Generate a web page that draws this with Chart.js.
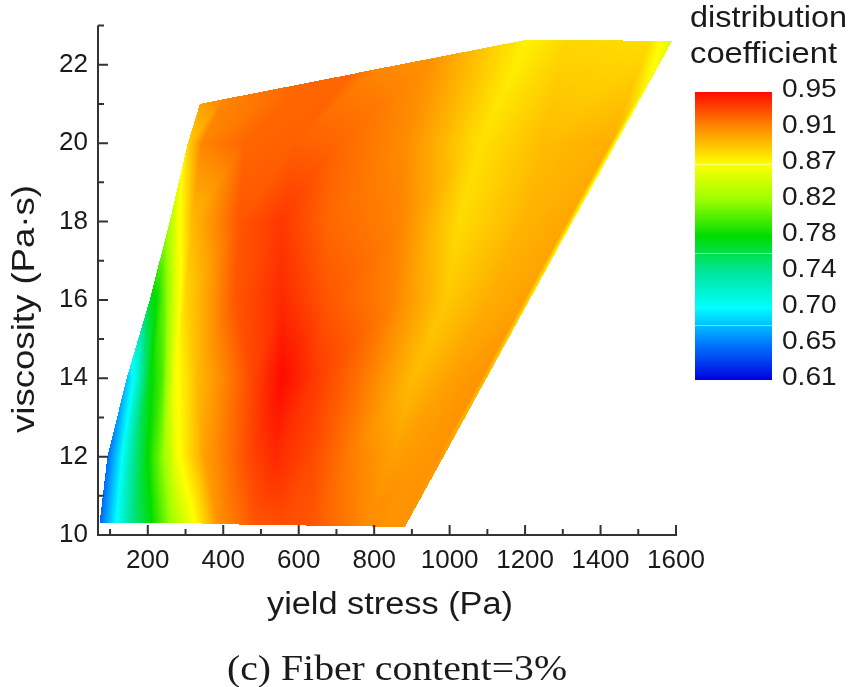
<!DOCTYPE html>
<html>
<head>
<meta charset="utf-8">
<script src="https://cdn.jsdelivr.net/npm/chart.js@4/dist/chart.umd.min.js"></script>
<style>
  html, body { margin: 0; padding: 0; background: #ffffff; }
  canvas { display: block; }
</style>
</head>
<body>
<canvas id="c" width="851" height="687"></canvas>
<script>
// ---------------- data ----------------
const xTicks = [200, 400, 600, 800, 1000, 1200, 1400, 1600];
const yTicks = [10, 12, 14, 16, 18, 20, 22];
const xMinorTicks = [100, 300, 500, 700, 900, 1100, 1300, 1500];
const yMinorTicks = [11, 13, 15, 17, 19, 21, 23];

// colour scale (distribution coefficient)
const levelLabels = ['0.95', '0.91', '0.87', '0.82', '0.78', '0.74', '0.70', '0.65', '0.61'];
const cmapValues = [0.61, 0.6525, 0.695, 0.7375, 0.78, 0.8225, 0.865, 0.9075, 0.95];
const cmapColors = ['#0000e0', '#0078ff', '#00ffff', '#00e69b', '#00dc00', '#9bff00', '#ffff00', '#ff8c00', '#ff0a00'];

// measured field: rows of points (yield stress, viscosity, coefficient), bottom to top
const meshX = [
  [72, 112, 150, 210, 263, 320, 385, 480, 560, 640, 720, 780, 830, 870, 881],
  [93, 128, 158, 200, 240, 278, 350, 470, 540, 630, 740, 850, 910, 970, 984],
  [144, 165, 185, 205, 237, 271, 330, 476, 555, 640, 768, 903, 1000, 1085, 1098],
  [205, 207, 209, 222, 245, 271, 300, 431, 555, 677, 854, 990, 1100, 1198, 1212],
  [258, 259, 260, 261, 262, 280, 316, 440, 555, 677, 870, 1025, 1200, 1312, 1326],
  [306, 307, 308, 309, 310, 312, 343, 457, 590, 700, 880, 1080, 1250, 1427, 1441],
  [338, 339, 340, 341, 342, 343, 400, 602, 734, 800, 955, 1205, 1310, 1530, 1589]
];
const meshY = [
  [10.3, 10.3, 10.3, 10.3, 10.3, 10.3, 10.28, 10.26, 10.25, 10.24, 10.23, 10.22, 10.21, 10.2, 10.2],
  [12, 12, 12, 12, 12, 12, 12, 12, 12, 12, 12, 12, 12, 12, 12],
  [14, 14, 14, 14, 14, 14, 14, 14, 14, 14, 14, 14, 14, 14, 14],
  [16, 16, 16, 16, 16, 16, 16, 16, 16, 16, 16, 16, 16, 16, 16],
  [18, 18, 18, 18, 18, 18, 18, 18, 18, 18, 18, 18, 18, 18, 18],
  [20, 20, 20, 20, 20, 20, 20, 20, 20, 20, 20, 20, 20, 20, 20],
  [21, 21, 21, 21.01, 21.01, 21.01, 21.12, 21.5, 21.75, 21.88, 22.17, 22.64, 22.64, 22.61, 22.6]
];
const meshV = [
  [0.645, 0.69, 0.735, 0.78, 0.825, 0.862, 0.905, 0.925, 0.928, 0.925, 0.915, 0.908, 0.905, 0.905, 0.905],
  [0.648, 0.69, 0.735, 0.78, 0.82, 0.862, 0.9, 0.93, 0.94, 0.93, 0.912, 0.9, 0.903, 0.905, 0.9],
  [0.675, 0.70, 0.74, 0.775, 0.80, 0.86, 0.89, 0.93, 0.95, 0.935, 0.915, 0.89, 0.90, 0.905, 0.885],
  [0.77, 0.772, 0.775, 0.78, 0.81, 0.85, 0.88, 0.925, 0.94, 0.925, 0.91, 0.885, 0.895, 0.90, 0.875],
  [0.83, 0.832, 0.834, 0.836, 0.838, 0.86, 0.89, 0.925, 0.935, 0.92, 0.91, 0.878, 0.893, 0.898, 0.865],
  [0.88, 0.881, 0.882, 0.883, 0.884, 0.885, 0.91, 0.92, 0.922, 0.92, 0.908, 0.876, 0.89, 0.895, 0.86],
  [0.90, 0.90, 0.90, 0.90, 0.90, 0.90, 0.91, 0.92, 0.92, 0.91, 0.905, 0.87, 0.88, 0.878, 0.85]
];

// ---------------- helpers ----------------
const SANS = "'Liberation Sans', Arial, sans-serif";
const SERIF = "'Liberation Serif', 'Times New Roman', serif";
const TEXT = '#1a1a1a';
const AXIS = '#333333';

function hexToRgb(h) {
  return [parseInt(h.slice(1, 3), 16), parseInt(h.slice(3, 5), 16), parseInt(h.slice(5, 7), 16)];
}
const cmapRgb = cmapColors.map(hexToRgb);

function colorFor(v) {
  if (v <= cmapValues[0]) return cmapRgb[0];
  const n = cmapValues.length;
  if (v >= cmapValues[n - 1]) return cmapRgb[n - 1];
  for (let i = 0; i < n - 1; i++) {
    if (v <= cmapValues[i + 1]) {
      const t = (v - cmapValues[i]) / (cmapValues[i + 1] - cmapValues[i]);
      const a = cmapRgb[i], b = cmapRgb[i + 1];
      return [a[0] + (b[0] - a[0]) * t, a[1] + (b[1] - a[1]) * t, a[2] + (b[2] - a[2]) * t];
    }
  }
  return cmapRgb[n - 1];
}

function scaledText(ctx, text, x, y, font, targetW, align, rotate) {
  ctx.save();
  ctx.font = font;
  ctx.fillStyle = TEXT;
  ctx.textAlign = align || 'center';
  ctx.textBaseline = 'alphabetic';
  const w = ctx.measureText(text).width;
  const sx = targetW ? targetW / w : 1;
  ctx.translate(x, y);
  if (rotate) ctx.rotate(rotate);
  ctx.scale(sx, 1);
  ctx.fillText(text, 0, 0);
  ctx.restore();
}

// ---------------- plugin drawing the field, axes and colour bar ----------------
const fieldPlugin = {
  id: 'fieldPlugin',
  beforeDatasetsDraw(chart) {
    const { ctx, scales } = chart;
    const xs = scales.x, ys = scales.y;
    const W = chart.width, H = chart.height;
    const off = document.createElement('canvas');
    off.width = W; off.height = H;
    const octx = off.getContext('2d');
    const img = octx.createImageData(W, H);
    const d = img.data;
    const P = meshX.map((row, r) => row.map((xv, c) => ({
      px: xs.getPixelForValue(xv),
      py: ys.getPixelForValue(meshY[r][c]),
      v: meshV[r][c]
    })));
    function tri(a, b, c) {
      const den = (b.py - c.py) * (a.px - c.px) + (c.px - b.px) * (a.py - c.py);
      if (Math.abs(den) < 1e-9) return;
      const minX = Math.max(0, Math.floor(Math.min(a.px, b.px, c.px)));
      const maxX = Math.min(W - 1, Math.ceil(Math.max(a.px, b.px, c.px)));
      const minY = Math.max(0, Math.floor(Math.min(a.py, b.py, c.py)));
      const maxY = Math.min(H - 1, Math.ceil(Math.max(a.py, b.py, c.py)));
      for (let py = minY; py <= maxY; py++) {
        const sy = py + 0.5;
        for (let px = minX; px <= maxX; px++) {
          const sx = px + 0.5;
          const w1 = ((b.py - c.py) * (sx - c.px) + (c.px - b.px) * (sy - c.py)) / den;
          const w2 = ((c.py - a.py) * (sx - c.px) + (a.px - c.px) * (sy - c.py)) / den;
          const w3 = 1 - w1 - w2;
          if (w1 < -1e-6 || w2 < -1e-6 || w3 < -1e-6) continue;
          const v = w1 * a.v + w2 * b.v + w3 * c.v;
          const col = colorFor(v);
          const k = (py * W + px) * 4;
          d[k] = col[0]; d[k + 1] = col[1]; d[k + 2] = col[2]; d[k + 3] = 255;
        }
      }
    }
    for (let r = 0; r < P.length - 1; r++) {
      for (let c = 0; c < P[r].length - 1; c++) {
        const A = P[r][c], B = P[r][c + 1], C = P[r + 1][c], D = P[r + 1][c + 1];
        tri(A, B, D);
        tri(A, D, C);
      }
    }
    octx.putImageData(img, 0, 0);
    ctx.drawImage(off, 0, 0);
  },
  afterDraw(chart) {
    const { ctx, chartArea, scales } = chart;
    const xs = scales.x, ys = scales.y;
    const L = chartArea.left, R = chartArea.right, T = chartArea.top, B = chartArea.bottom;
    ctx.save();
    ctx.strokeStyle = AXIS;
    ctx.lineWidth = 2;
    ctx.beginPath();
    ctx.moveTo(L, T); ctx.lineTo(L, B + 1);
    ctx.moveTo(L - 1, B); ctx.lineTo(R + 1, B);
    // major ticks (inward)
    xTicks.forEach(v => { const p = xs.getPixelForValue(v); ctx.moveTo(p, B); ctx.lineTo(p, B - 10); });
    yTicks.forEach(v => { const p = ys.getPixelForValue(v); ctx.moveTo(L, p); ctx.lineTo(L + 10, p); });
    // minor ticks
    xMinorTicks.forEach(v => { const p = xs.getPixelForValue(v); ctx.moveTo(p, B); ctx.lineTo(p, B - 6); });
    yMinorTicks.forEach(v => { const p = ys.getPixelForValue(v); ctx.moveTo(L, p); ctx.lineTo(L + 6, p); });
    ctx.stroke();
    ctx.restore();

    // axis titles
    scaledText(ctx, 'yield stress (Pa)', 390, 614, '31px ' + SANS, 246, 'center');
    scaledText(ctx, 'viscosity (Pa·s)', 34, 309, '31px ' + SANS, 248, 'center', -Math.PI / 2);
    // caption
    scaledText(ctx, '(c) Fiber content=3%', 397, 680, '35px ' + SERIF, 340, 'center');

    // colour bar
    const bx = 695, bw = 77, bTop = 92, bBot = 380;
    const g = ctx.createLinearGradient(0, bBot, 0, bTop);
    const vmin = cmapValues[0], vmax = cmapValues[cmapValues.length - 1];
    cmapValues.forEach((v, i) => g.addColorStop((v - vmin) / (vmax - vmin), cmapColors[i]));
    ctx.fillStyle = g;
    ctx.fillRect(bx, bTop, bw, bBot - bTop);
    // faint level separators
    ctx.save();
    ctx.strokeStyle = 'rgba(255,255,255,0.45)';
    ctx.lineWidth = 1;
    [0.865, 0.76, 0.675].forEach(v => {
      const yy = Math.round(bBot - (v - vmin) / (vmax - vmin) * (bBot - bTop)) + 0.5;
      ctx.beginPath(); ctx.moveTo(bx, yy); ctx.lineTo(bx + bw, yy); ctx.stroke();
    });
    ctx.restore();
    ctx.save();
    ctx.font = '26px ' + SANS;
    ctx.fillStyle = TEXT;
    ctx.textAlign = 'left';
    ctx.textBaseline = 'middle';
    const step = (bBot - bTop) / (levelLabels.length - 1);
    levelLabels.forEach((lab, i) => {
      const yy = bTop + i * step - 2;
      ctx.save();
      ctx.translate(782, yy);
      ctx.scale(1.08, 1);
      ctx.fillText(lab, 0, 0);
      ctx.restore();
    });
    ctx.restore();
    scaledText(ctx, 'distribution', 690, 27, '30px ' + SANS, 157, 'left');
    scaledText(ctx, 'coefficient', 690, 63, '30px ' + SANS, 147, 'left');
  }
};

// ---------------- chart ----------------
const points = [];
meshX.forEach((row, r) => row.forEach((xv, c) => points.push({ x: xv, y: meshY[r][c] })));

new Chart(document.getElementById('c').getContext('2d'), {
  type: 'scatter',
  data: {
    datasets: [{
      label: 'distribution coefficient',
      data: points,
      pointRadius: 0,
      pointHoverRadius: 0,
      showLine: false
    }]
  },
  options: {
    responsive: false,
    animation: false,
    devicePixelRatio: 1,
    layout: { padding: { left: 0, top: 22, right: 175, bottom: 0 } },
    plugins: { legend: { display: false }, tooltip: { enabled: false }, title: { display: false } },
    scales: {
      x: {
        type: 'linear',
        min: 68,
        max: 1600,
        grid: { display: false, drawTicks: false },
        border: { display: false },
        ticks: {
          autoSkip: false, maxRotation: 0, padding: 10,
          color: TEXT, font: { family: SANS, size: 26 },
          callback: v => String(v)
        },
        afterBuildTicks: s => { s.ticks = xTicks.map(v => ({ value: v })); },
        afterFit: s => { s.height = 152; }
      },
      y: {
        type: 'linear',
        min: 10,
        max: 23,
        grid: { display: false, drawTicks: false },
        border: { display: false },
        ticks: {
          autoSkip: false, padding: 10,
          color: TEXT, font: { family: SANS, size: 26 },
          callback: v => String(v)
        },
        afterBuildTicks: s => { s.ticks = yTicks.map(v => ({ value: v })); },
        afterFit: s => { s.width = 98; }
      }
    }
  },
  plugins: [fieldPlugin]
});
</script>
</body>
</html>
